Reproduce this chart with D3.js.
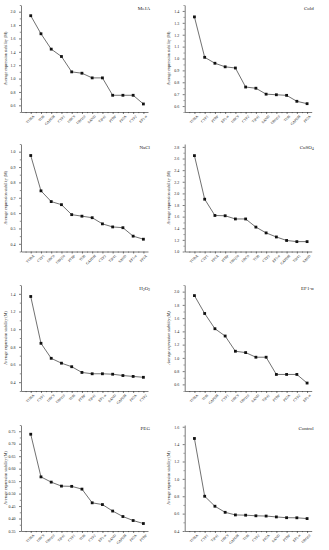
<!DOCTYPE html>
<html><head><meta charset="utf-8">
<script src="https://cdn.jsdelivr.net/npm/d3@7"></script>
<style>body{margin:0;background:#fff}svg{display:block}text{font-family:"Liberation Serif","Times New Roman",serif;fill:#222}</style>
</head><body><svg id="c" width="329" height="550"></svg>
<script>
const titles = ["MeJA","Cold","NaCl","CuSO4","H2O2","EF1-α","PEG","Control"];
const genesMeJA = ["TUBA","TUB","GAPDH","CYP1","UBC9","UBQ10","SAND","TIP41","PTBP","PP2A","CYP2","EF1-α"];
const valsMeJA = [1.94,1.67,1.44,1.33,1.10,1.08,1.01,1.01,0.75,0.75,0.75,0.62];
const genesCold = ["TUBA","CYP1","PTBP","EF1-α","UBC9","CYP2","TIP41","SAND","UBQ10","TUB","GAPDH","PP2A"];
const valsCold = [1.35,1.01,0.96,0.93,0.92,0.76,0.75,0.70,0.695,0.69,0.64,0.62];
const genesNaCl = ["TUBA","CYP1","UBC9","UBQ10","PTBP","TUB","GAPDH","CYP2","TIP41","SAND","EF1-α","PP2A"];
const valsNaCl = [0.975,0.745,0.675,0.655,0.59,0.58,0.57,0.53,0.51,0.505,0.45,0.43];
const genesCuSO4 = ["TUBA","CYP1","PP2A","PTBP","UBQ10","UBC9","TUB","CYP2","EF1-α","GAPDH","TIP41","SAND"];
const valsCuSO4 = [2.65,1.90,1.62,1.615,1.56,1.56,1.42,1.32,1.25,1.19,1.17,1.17];
const genesH2O2 = ["TUBA","CYP1","UBC9","UBQ10","TUB","PTBP","TIP41","EF1-α","SAND","GAPDH","PP2A","CYP2"];
const valsH2O2 = [1.37,0.84,0.67,0.615,0.575,0.51,0.495,0.495,0.49,0.475,0.465,0.455];
const genesEF1 = ["TUBA","TUB","GAPDH","CYP1","UBC9","UBQ10","SAND","TIP41","PTBP","PP2A","CYP2","EF1-α"];
const valsEF1 = [1.94,1.67,1.44,1.33,1.10,1.08,1.01,1.01,0.75,0.75,0.75,0.62];
const genesPEG = ["TUBA","UBC9","UBQ10","TIP41","CYP1","TUB","CYP2","EF1-α","SAND","GAPDH","PP2A","PTBP"];
const valsPEG = [0.738,0.567,0.546,0.530,0.529,0.518,0.463,0.456,0.430,0.408,0.392,0.380];
const genesControl = ["TUBA","CYP1","TIP41","UBC9","GAPDH","TUB","CYP2","PP2A","SAND","PTBP","EF1-α","UBQ10"];
const valsControl = [1.465,0.80,0.685,0.615,0.585,0.582,0.575,0.572,0.562,0.553,0.552,0.543];
// y axis settings: [min, max, major step, decimals]
const yDomains = [[0.5,2.1],[0.55,1.45],[0.35,1.05],[1.0,2.85],[0.3,1.5],[0.5,2.1],[0.35,0.775],[0.4,1.62]];
const yTickStart = [0.6,0.6,0.4,1.0,0.4,0.6,0.35,0.4];
const yTickEnd = [2.0,1.4,1.0,2.8,1.4,2.0,0.75,1.6];
const yStep = [0.2,0.1,0.1,0.2,0.2,0.2,0.05,0.2];
const yDec = [1,1,1,1,1,1,2,1];

const genes = [genesMeJA,genesCold,genesNaCl,genesCuSO4,genesH2O2,genesEF1,genesPEG,genesControl];
const vals = [valsMeJA,valsCold,valsNaCl,valsCuSO4,valsH2O2,valsEF1,valsPEG,valsControl];

const svg = d3.select("#c");
const rowTop = [5,144,285,425], rowBot = [112,251.5,391,531];

titles.forEach((t,k)=>{
  const col = k%2, row = Math.floor(k/2);
  const ox = col===0 ? 21 : 184.7;
  const g = svg.append("g");
  const x = d3.scaleLinear().domain([0.05,12.45]).range([ox, ox+127]);
  const y = d3.scaleLinear().domain(yDomains[k]).range([rowBot[row], rowTop[row]]);
  const major = d3.range(yTickStart[k], yTickEnd[k]+yStep[k]/2, yStep[k]);
  const minor = d3.range(yTickStart[k]-yStep[k]/2, yDomains[k][1]+1e-9, yStep[k]).filter(v=>v>=yDomains[k][0]-1e-9);
  // y axis
  const ya = g.append("g").attr("transform",`translate(${ox},0)`)
    .call(d3.axisLeft(y).tickValues(major).tickSize(2).tickSizeOuter(0).tickFormat(d3.format(`.${yDec[k]}f`)));
  ya.selectAll("text").attr("font-size",4).attr("dx",-0.5);
  ya.selectAll("line,path").attr("stroke","#222").attr("stroke-width",0.6);
  g.append("g").attr("transform",`translate(${ox},0)`)
    .call(d3.axisLeft(y).tickValues(minor).tickSize(1.2).tickFormat(""))
    .call(s=>{s.select(".domain").remove();s.selectAll("line").attr("stroke","#222").attr("stroke-width",0.5);});
  // x axis
  const xa = g.append("g").attr("transform",`translate(0,${rowBot[row]})`)
    .call(d3.axisBottom(x).tickValues(d3.range(1,13)).tickSize(2).tickSizeOuter(0).tickFormat(i=>genes[k][i-1]));
  xa.selectAll("line,path").attr("stroke","#222").attr("stroke-width",0.6);
  xa.selectAll("text").attr("font-size",3.6).attr("text-anchor","end")
    .attr("transform","translate(1,1) rotate(-45)").attr("dy","0.35em").attr("y",3).attr("x",-1);
  g.append("g").attr("transform",`translate(0,${rowBot[row]})`)
    .call(d3.axisBottom(x).tickValues(d3.range(0.5,12.5,1)).tickSize(1.2).tickFormat(""))
    .call(s=>{s.select(".domain").remove();s.selectAll("line").attr("stroke","#222").attr("stroke-width",0.5);});
  // y title
  g.append("text").attr("font-size",4.1).attr("text-anchor","middle")
    .attr("font-style", k===5 ? "italic" : "normal")
    .attr("transform",`translate(${ox-14.5},${(rowTop[row]+rowBot[row])/2}) rotate(-90)`)
    .text("Average expression stability (M)");
  // line + markers
  const data = vals[k].map((v,i)=>[i+1,v]);
  g.append("path").datum(data).attr("fill","none").attr("stroke","#333").attr("stroke-width",0.7)
    .attr("d", d3.line().x(d=>x(d[0])).y(d=>y(d[1])));
  g.selectAll("rect.m").data(data).enter().append("rect")
    .attr("x",d=>x(d[0])-1.4).attr("y",d=>y(d[1])-1.4).attr("width",2.8).attr("height",2.8).attr("fill","#111");
  // title
  const tt = g.append("text").attr("font-size",5).attr("text-anchor","end")
    .attr("x", ox+129).attr("y", rowTop[row]+5);
  if (t==="CuSO4") { tt.text("CuSO"); tt.append("tspan").attr("font-size",3.5).attr("dy",1.2).text("4"); }
  else if (t==="H2O2") { tt.text("H"); tt.append("tspan").attr("font-size",3.5).attr("dy",1.2).text("2");
    tt.append("tspan").attr("dy",-1.2).text("O"); tt.append("tspan").attr("font-size",3.5).attr("dy",1.2).text("2"); }
  else tt.text(t);
});
</script></body></html>
